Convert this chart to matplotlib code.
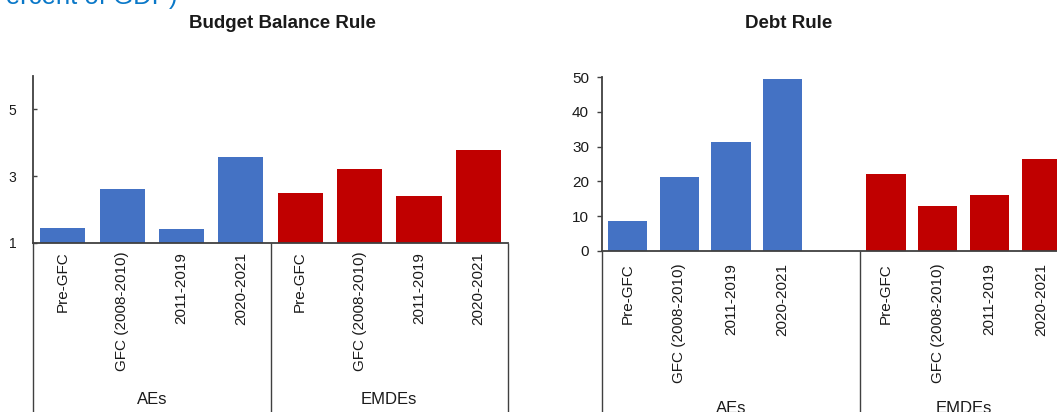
import matplotlib
matplotlib.use("Agg")
import matplotlib.pyplot as plt
from matplotlib.transforms import blended_transform_factory

plt.rcParams['font.family'] = ['Liberation Sans', 'DejaVu Sans']

# ---- data ----
periods = ["Pre-GFC", "GFC (2008-2010)", "2011-2019", "2020-2021"]
groups = ["AEs", "EMDEs"]
budget_aes = [1.45, 2.61, 1.41, 3.57]
budget_emdes = [2.49, 3.21, 2.40, 3.78]
debt_aes = [8.6, 21.2, 31.3, 49.4]
debt_emdes = [22.1, 12.9, 16.0, 26.4]
budget_ticks = [1, 3, 5]
debt_ticks = [0, 10, 20, 30, 40, 50]

BLUE = "#4472C4"
RED = "#C00000"
AXC = "#404040"
TXT = "#1a1a1a"

W, H = 1057, 412
fig = plt.figure(figsize=(W / 100, H / 100), dpi=100)


def px_axes(x0, x1, ytop, ybot):
    return fig.add_axes([x0 / W, (H - ybot) / H, (x1 - x0) / W, (ybot - ytop) / H])


def style(ax):
    for s in ("top", "right"):
        ax.spines[s].set_visible(False)
    for s in ("left", "bottom"):
        ax.spines[s].set_color(AXC)
        ax.spines[s].set_linewidth(1.3)


def separators(ax, xs):
    tr = blended_transform_factory(ax.transData, ax.transAxes)
    for x in xs:
        ax.plot([x, x], [0, -1.6], transform=tr, clip_on=False,
                color=AXC, lw=1.0, solid_capstyle="butt")


def group_labels(ax, centers, baseline_px):
    tr = blended_transform_factory(ax.transData, fig.transFigure)
    for c, g in zip(centers, groups):
        ax.text(c, (H - baseline_px) / H, g, transform=tr, ha="center",
                va="baseline", fontsize=12, color=TXT, clip_on=False)


# ---- left panel: Budget Balance Rule ----
ax1 = px_axes(33, 508, 76, 242.7)
n = len(periods)
pos_a = list(range(n))
pos_e = [n + i for i in range(n)]
ax1.bar(pos_a, budget_aes, width=0.76, color=BLUE)
ax1.bar(pos_e, budget_emdes, width=0.76, color=RED)
ax1.set_xlim(-0.5, 2 * n - 0.5)
ax1.set_ylim(1, 6)
ax1.set_yticks(budget_ticks)
ax1.set_yticklabels([str(t) for t in budget_ticks], fontsize=10, color=TXT)
ax1.tick_params(axis="y", direction="in", length=3, width=1, color=AXC, pad=12)
ax1.set_xticks(pos_a + pos_e)
ax1.set_xticklabels(periods * 2, rotation=90, fontsize=11, color=TXT)
ax1.tick_params(axis="x", length=0, pad=6.5)
style(ax1)
separators(ax1, [-0.5, n - 0.5, 2 * n - 0.5])
group_labels(ax1, [(n - 1) / 2, n + (n - 1) / 2], 404)

# ---- right panel: Debt Rule ----
ax2 = px_axes(601.7, 1067, 77.3, 250.7)
pos_a2 = list(range(n))
pos_e2 = [n + 1 + i for i in range(n)]
ax2.bar(pos_a2, debt_aes, width=0.76, color=BLUE)
ax2.bar(pos_e2, debt_emdes, width=0.76, color=RED)
ax2.set_xlim(-0.5, 2 * n + 0.5)
ax2.set_ylim(0, 50)
ax2.set_yticks(debt_ticks)
ax2.set_yticklabels([str(t) for t in debt_ticks], fontsize=11, color=TXT)
ax2.tick_params(axis="y", direction="out", length=3.6, width=1, color=AXC, pad=5.5)
ax2.set_xticks(pos_a2 + pos_e2)
ax2.set_xticklabels(periods * 2, rotation=90, fontsize=11, color=TXT)
ax2.tick_params(axis="x", length=0, pad=9)
style(ax2)
separators(ax2, [-0.5, n + 0.5, 2 * n + 0.5])
group_labels(ax2, [n / 2, n + 1 + (n - 1) / 2], 412.7)

# ---- titles ----
fig.text(282 / W, (H - 23.5) / H, "Budget Balance Rule", ha="center", va="center",
         fontsize=13.5, fontweight="bold", color=TXT)
fig.text(789 / W, (H - 23) / H, "Debt Rule", ha="center", va="center",
         fontsize=13.5, fontweight="bold", color=TXT)
fig.text(178 / W, (H - 4) / H, "(Percent of GDP)", ha="right", va="baseline",
         fontsize=18.5, color="#0A78C8")

fig.savefig("out.png", dpi=100)
